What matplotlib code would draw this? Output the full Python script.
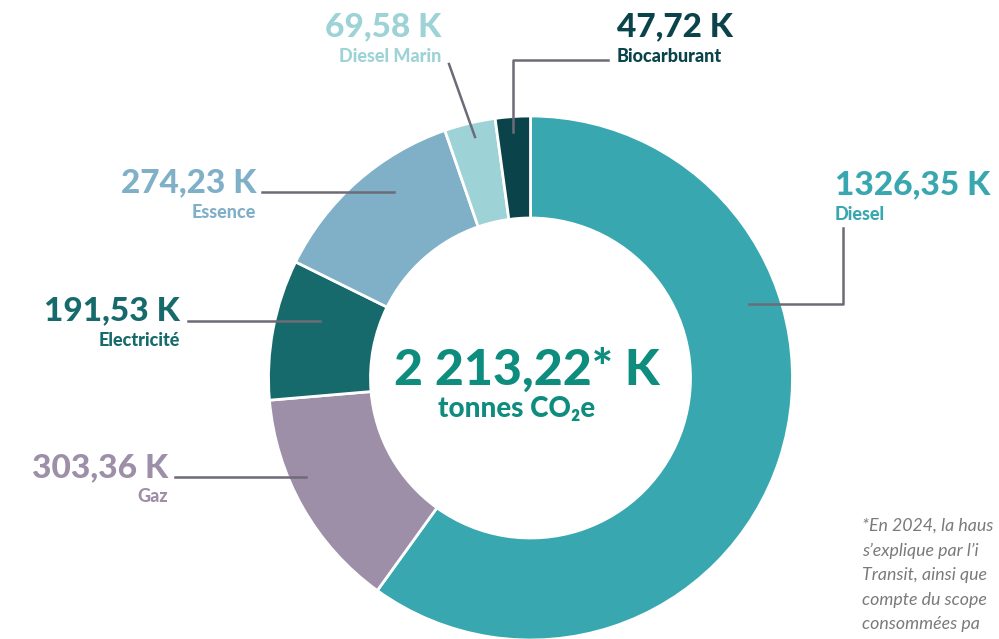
import matplotlib.pyplot as plt

# data
labels = ["Diesel", "Gaz", "Electricité", "Essence", "Diesel Marin", "Biocarburant"]
values = [1326.35, 303.36, 191.53, 274.23, 69.58, 47.72]
value_labels = ["1326,35 K", "303,36 K", "191,53 K", "274,23 K", "69,58 K", "47,72 K"]
colors = ["#38A7AF", "#9D8FA8", "#166A6B", "#80B0C7", "#9DD3D6", "#0A434A"]
total_label = "2 213,22* K"
# the note is cut by the right edge in the original
footnote = ["*En 2024, la haus", "s’explique par l’i",
            "Transit, ainsi que", "compte du scope",
            "consommées pa"]

W, H = 999, 639
fig = plt.figure(figsize=(W / 100, H / 100), dpi=100)
ax = fig.add_axes([0, 0, 1, 1])

def Y(y):  # pixel row -> data y
    return H - y

FONT = ["Lato", "DejaVu Sans"]
cx, cy, R = 530.5, 378, 262
ax.pie(values, colors=colors, startangle=90, counterclock=False,
       center=(cx, Y(cy)), radius=R, frame=True,
       wedgeprops=dict(width=102, edgecolor="white", linewidth=2))
ax.set_xlim(0, W)
ax.set_ylim(0, H)
ax.set_aspect("equal")
ax.axis("off")

line_c = "#6E6B78"
# leader lines
ax.plot([843, 843, 749], [Y(228), Y(304), Y(304)], color=line_c, lw=1.8)
ax.plot([175, 306], [Y(477), Y(477)], color=line_c, lw=1.8)
ax.plot([188, 320], [Y(321), Y(321)], color=line_c, lw=1.8)
ax.plot([262, 394], [Y(192), Y(192)], color=line_c, lw=1.8)
ax.plot([449, 475], [Y(64), Y(137)], color=line_c, lw=1.8)
ax.plot([608, 513, 513], [Y(60), Y(60), Y(132)], color=line_c, lw=1.8)

# labels: (x, y of value, alignment)
pos = [(835, 185, "left"), (168, 468, "right"), (180, 311, "right"),
       (256, 183, "right"), (441, 27, "right"), (617, 27, "left")]
for lab, val, col, (x, y, ha) in zip(labels, value_labels, colors, pos):
    ax.text(x, Y(y), val, ha=ha, va="center", fontsize=24, fontweight="black",
            color=col, family=FONT)
    ax.text(x, Y(y + 29), lab, ha=ha, va="center", fontsize=13, fontweight="black",
            color=col, family=FONT)

center_c = "#0E8C7E"
ax.text(527, Y(370), total_label, ha="center", va="center", fontsize=36,
        fontweight="black", color=center_c, family=FONT)
ax.text(517, Y(409), "tonnes CO₂e", ha="center", va="center", fontsize=20,
        fontweight="black", color=center_c, family=FONT)

for i, line in enumerate(footnote):
    ax.text(862, Y(526 + i * 24.5), line, ha="left", va="center", fontsize=12.8,
            style="italic", color="#7A7A7A", family=FONT)

fig.savefig("out.png", dpi=100)
